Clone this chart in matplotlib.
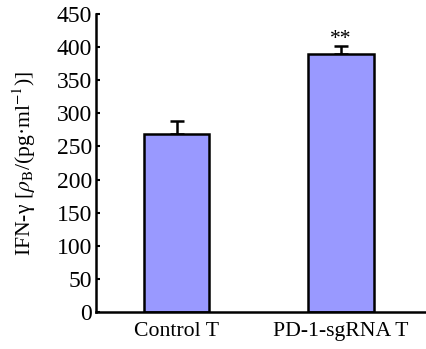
import numpy as np
import matplotlib.pyplot as plt

plt.rcParams['font.family'] = ['Liberation Serif', 'DejaVu Serif']
plt.rcParams['mathtext.fontset'] = 'stix'

groups = ["Control T", "PD-1-sgRNA T"]
means = [269, 390]
errs = [19, 11]
marks = ["", "**"]

fig = plt.figure(figsize=(4.27, 3.49), dpi=100)
ax = fig.add_axes([0.225, 0.106, 0.773, 0.854])

x = np.arange(len(groups))
ax.bar(x, means, width=0.4, color='#9999ff', edgecolor='black', linewidth=1.8, zorder=2)
ax.errorbar(x, means, yerr=[np.zeros(len(errs)), errs], fmt='none', ecolor='black',
            elinewidth=1.8, capsize=5, capthick=1.8, zorder=1)
for xi, m, e, s in zip(x, means, errs, marks):
    if s:
        ax.annotate(s, (xi, m + e), xytext=(0, -2), textcoords='offset points',
                    ha='center', va='bottom', fontsize=15.5)

ax.set_xlim(-0.49, 1.52)
ax.set_ylim(0, 450)
ax.set_yticks(np.arange(0, 451, 50))
ax.set_xticks(x)
ax.set_xticklabels(groups, fontsize=15.7)
ax.tick_params(axis='x', length=0, pad=7)
ax.tick_params(axis='y', direction='in', length=3, width=1.5, labelsize=17, pad=3)
for side in ['top', 'right']:
    ax.spines[side].set_visible(False)
for side in ['left', 'bottom']:
    ax.spines[side].set_linewidth(1.8)
ax.set_ylabel(r'IFN-γ [$\rho_{\rm B}$/(pg·ml$^{-1}$)]', fontsize=15.6)
ax.yaxis.set_label_coords(-0.175, 0.5)

fig.savefig('out.png', dpi=100)
